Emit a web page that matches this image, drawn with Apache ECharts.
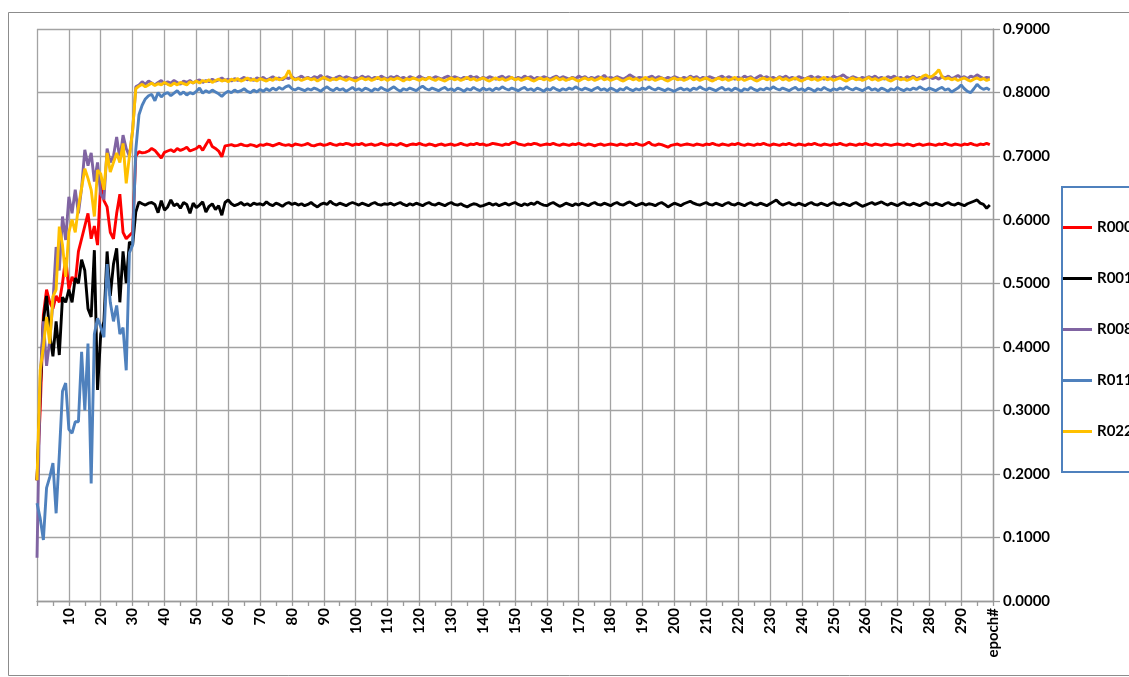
<!DOCTYPE html>
<html><head><meta charset="utf-8">
<script src="https://cdn.jsdelivr.net/npm/echarts@6/dist/echarts.min.js"></script>
<style>html,body{margin:0;padding:0;background:#fff}#c{width:1129px;height:677px}</style>
</head><body><div id="c"></div>
<script>
const seriesNames = ['R000','R001','R008','R011','R022'];
const seriesColors = ['#ff0000','#000000','#8064a2','#4f81bd','#ffc000'];
const yTicks = [0,0.1,0.2,0.3,0.4,0.5,0.6,0.7,0.8,0.9];

const R000 = [
0.190,0.300,0.450,0.490,0.470,0.460,0.480,0.470,0.500,0.540,
0.490,0.510,0.500,0.550,0.570,0.590,0.610,0.570,0.590,0.560,
0.660,0.630,0.620,0.580,0.570,0.610,0.640,0.580,0.570,0.575,
0.580,0.700,0.707,0.705,0.706,0.708,0.712,0.709,0.703,0.697,
0.706,0.708,0.710,0.707,0.712,0.709,0.711,0.714,0.708,0.710,
0.712,0.716,0.709,0.718,0.726,0.715,0.712,0.708,0.699,0.716,
0.717,0.718,0.716,0.717,0.719,0.717,0.716,0.718,0.717,0.715,
0.718,0.717,0.719,0.718,0.716,0.718,0.720,0.718,0.717,0.718,
0.716,0.719,0.718,0.717,0.718,0.720,0.717,0.716,0.718,0.719,
0.717,0.718,0.720,0.718,0.717,0.719,0.718,0.720,0.719,0.717,
0.719,0.718,0.720,0.717,0.718,0.719,0.717,0.718,0.720,0.718,
0.717,0.719,0.718,0.717,0.720,0.718,0.716,0.718,0.719,0.718,
0.720,0.718,0.717,0.719,0.718,0.716,0.718,0.719,0.717,0.718,
0.719,0.717,0.718,0.720,0.718,0.717,0.719,0.718,0.720,0.718,
0.719,0.717,0.718,0.720,0.719,0.718,0.717,0.719,0.718,0.721,
0.722,0.719,0.718,0.717,0.719,0.718,0.720,0.719,0.717,0.718,
0.719,0.718,0.720,0.718,0.717,0.719,0.718,0.717,0.719,0.718,
0.720,0.718,0.717,0.719,0.718,0.716,0.718,0.719,0.717,0.718,
0.719,0.718,0.717,0.719,0.718,0.717,0.719,0.718,0.720,0.718,
0.717,0.719,0.722,0.718,0.717,0.719,0.718,0.716,0.714,0.717,
0.718,0.719,0.717,0.718,0.719,0.718,0.717,0.719,0.718,0.717,
0.719,0.718,0.720,0.718,0.717,0.719,0.718,0.717,0.719,0.718,
0.720,0.718,0.717,0.719,0.718,0.717,0.719,0.718,0.720,0.718,
0.717,0.719,0.718,0.717,0.719,0.718,0.720,0.718,0.717,0.719,
0.718,0.717,0.719,0.718,0.720,0.718,0.717,0.719,0.718,0.717,
0.719,0.718,0.720,0.718,0.717,0.719,0.718,0.717,0.719,0.718,
0.720,0.718,0.717,0.719,0.718,0.717,0.719,0.718,0.717,0.718,
0.719,0.718,0.717,0.719,0.718,0.716,0.718,0.719,0.717,0.718,
0.719,0.718,0.717,0.719,0.718,0.720,0.718,0.717,0.719,0.718,
0.717,0.719,0.718,0.720,0.718,0.717,0.719,0.718,0.720,0.718
];
const R001 = [
0.190,0.330,0.440,0.480,0.420,0.385,0.440,0.387,0.478,0.470,
0.490,0.470,0.508,0.500,0.537,0.520,0.460,0.447,0.552,0.332,
0.420,0.440,0.550,0.480,0.530,0.555,0.470,0.550,0.500,0.565,
0.560,0.612,0.628,0.625,0.623,0.626,0.627,0.624,0.611,0.630,
0.615,0.620,0.631,0.622,0.625,0.618,0.627,0.624,0.610,0.626,
0.619,0.623,0.628,0.612,0.621,0.625,0.616,0.622,0.607,0.627,
0.631,0.625,0.622,0.624,0.627,0.623,0.625,0.622,0.626,0.624,
0.625,0.623,0.628,0.624,0.622,0.626,0.624,0.621,0.625,0.627,
0.624,0.626,0.623,0.625,0.622,0.624,0.627,0.623,0.620,0.624,
0.626,0.624,0.629,0.625,0.623,0.626,0.624,0.622,0.625,0.627,
0.625,0.623,0.626,0.624,0.622,0.625,0.627,0.624,0.623,0.625,
0.624,0.626,0.623,0.625,0.627,0.624,0.622,0.625,0.623,0.626,
0.624,0.622,0.625,0.627,0.624,0.623,0.626,0.624,0.622,0.625,
0.627,0.624,0.623,0.625,0.622,0.620,0.623,0.625,0.624,0.621,
0.622,0.624,0.626,0.623,0.625,0.622,0.624,0.626,0.623,0.625,
0.627,0.624,0.622,0.625,0.623,0.626,0.624,0.628,0.625,0.623,
0.622,0.625,0.627,0.624,0.621,0.623,0.626,0.624,0.622,0.625,
0.623,0.626,0.624,0.622,0.625,0.627,0.624,0.623,0.626,0.624,
0.622,0.625,0.627,0.624,0.623,0.626,0.628,0.625,0.622,0.624,
0.626,0.623,0.625,0.624,0.622,0.625,0.627,0.624,0.620,0.623,
0.626,0.624,0.622,0.625,0.627,0.629,0.626,0.624,0.623,0.625,
0.627,0.624,0.623,0.626,0.624,0.622,0.625,0.627,0.624,0.623,
0.626,0.624,0.622,0.625,0.627,0.624,0.623,0.626,0.624,0.622,
0.625,0.628,0.631,0.626,0.623,0.625,0.627,0.624,0.623,0.626,
0.624,0.622,0.625,0.627,0.624,0.623,0.626,0.624,0.622,0.625,
0.627,0.624,0.623,0.626,0.624,0.622,0.625,0.627,0.624,0.621,
0.623,0.625,0.627,0.624,0.626,0.628,0.625,0.623,0.626,0.624,
0.622,0.625,0.627,0.624,0.623,0.626,0.624,0.622,0.625,0.627,
0.624,0.623,0.626,0.624,0.622,0.625,0.627,0.624,0.623,0.626,
0.624,0.622,0.625,0.627,0.629,0.631,0.626,0.624,0.618,0.623
];
const R008 = [
0.068,0.350,0.440,0.370,0.410,0.470,0.557,0.520,0.605,0.568,
0.636,0.610,0.647,0.610,0.650,0.710,0.685,0.705,0.660,0.690,
0.640,0.632,0.712,0.690,0.700,0.730,0.695,0.733,0.712,0.700,
0.740,0.809,0.812,0.817,0.813,0.818,0.815,0.812,0.816,0.819,
0.814,0.817,0.815,0.819,0.816,0.813,0.818,0.816,0.819,0.815,
0.818,0.820,0.816,0.819,0.817,0.821,0.818,0.820,0.823,0.819,
0.821,0.818,0.822,0.819,0.821,0.824,0.820,0.822,0.819,0.823,
0.821,0.824,0.820,0.822,0.825,0.821,0.823,0.820,0.824,0.822,
0.825,0.821,0.823,0.826,0.822,0.824,0.821,0.825,0.823,0.827,
0.822,0.825,0.823,0.821,0.824,0.826,0.822,0.825,0.823,0.821,
0.824,0.822,0.826,0.823,0.825,0.821,0.824,0.822,0.826,0.823,
0.821,0.825,0.823,0.826,0.822,0.824,0.821,0.825,0.823,0.822,
0.826,0.823,0.821,0.824,0.822,0.825,0.823,0.821,0.824,0.826,
0.822,0.825,0.823,0.821,0.824,0.822,0.826,0.823,0.825,0.821,
0.824,0.822,0.825,0.823,0.821,0.824,0.826,0.822,0.825,0.823,
0.821,0.824,0.822,0.826,0.823,0.825,0.821,0.824,0.822,0.825,
0.823,0.821,0.824,0.826,0.822,0.825,0.823,0.821,0.824,0.822,
0.826,0.823,0.825,0.821,0.824,0.822,0.825,0.823,0.827,0.822,
0.824,0.822,0.825,0.823,0.821,0.824,0.828,0.825,0.822,0.824,
0.823,0.821,0.824,0.826,0.822,0.825,0.823,0.821,0.824,0.822,
0.825,0.823,0.821,0.824,0.822,0.826,0.823,0.825,0.821,0.824,
0.822,0.825,0.823,0.821,0.824,0.826,0.822,0.825,0.823,0.821,
0.824,0.822,0.826,0.823,0.825,0.821,0.824,0.827,0.823,0.825,
0.822,0.824,0.821,0.825,0.823,0.826,0.822,0.824,0.821,0.825,
0.823,0.821,0.824,0.826,0.822,0.825,0.823,0.821,0.824,0.822,
0.826,0.823,0.825,0.828,0.824,0.822,0.825,0.823,0.821,0.824,
0.822,0.825,0.823,0.826,0.822,0.824,0.821,0.825,0.823,0.826,
0.822,0.824,0.821,0.825,0.823,0.826,0.822,0.824,0.821,0.823,
0.825,0.822,0.824,0.821,0.825,0.823,0.826,0.822,0.824,0.827,
0.823,0.825,0.822,0.826,0.824,0.828,0.825,0.822,0.824,0.823
];
const R011 = [
0.154,0.130,0.096,0.178,0.195,0.217,0.138,0.230,0.330,0.343,
0.270,0.264,0.282,0.282,0.392,0.300,0.405,0.185,0.420,0.445,
0.431,0.415,0.530,0.470,0.440,0.465,0.420,0.430,0.363,0.548,
0.560,0.710,0.765,0.780,0.790,0.795,0.797,0.787,0.800,0.793,
0.798,0.800,0.795,0.799,0.803,0.797,0.801,0.796,0.800,0.798,
0.802,0.807,0.799,0.803,0.800,0.804,0.801,0.798,0.794,0.799,
0.802,0.800,0.804,0.801,0.803,0.806,0.802,0.800,0.804,0.801,
0.805,0.802,0.806,0.803,0.807,0.804,0.808,0.805,0.809,0.811,
0.806,0.804,0.807,0.805,0.803,0.806,0.804,0.807,0.805,0.802,
0.806,0.809,0.805,0.803,0.807,0.804,0.806,0.802,0.805,0.808,
0.804,0.806,0.803,0.807,0.805,0.802,0.806,0.804,0.808,0.805,
0.803,0.806,0.809,0.805,0.802,0.806,0.804,0.807,0.805,0.803,
0.807,0.810,0.806,0.804,0.807,0.805,0.803,0.806,0.808,0.804,
0.806,0.803,0.807,0.805,0.802,0.806,0.804,0.808,0.805,0.803,
0.807,0.804,0.806,0.803,0.807,0.805,0.809,0.806,0.804,0.807,
0.805,0.803,0.806,0.808,0.804,0.806,0.803,0.807,0.805,0.802,
0.806,0.804,0.808,0.805,0.803,0.806,0.804,0.807,0.805,0.809,
0.806,0.804,0.807,0.805,0.803,0.806,0.808,0.804,0.806,0.803,
0.807,0.805,0.802,0.806,0.804,0.808,0.805,0.803,0.806,0.804,
0.807,0.805,0.809,0.806,0.804,0.807,0.805,0.803,0.806,0.804,
0.802,0.805,0.807,0.804,0.806,0.803,0.807,0.805,0.809,0.806,
0.804,0.807,0.805,0.803,0.806,0.808,0.804,0.806,0.803,0.807,
0.805,0.802,0.806,0.804,0.808,0.805,0.803,0.806,0.804,0.807,
0.805,0.809,0.806,0.804,0.807,0.805,0.803,0.806,0.808,0.804,
0.806,0.803,0.807,0.805,0.802,0.806,0.804,0.808,0.805,0.803,
0.806,0.804,0.807,0.805,0.809,0.806,0.804,0.807,0.805,0.803,
0.806,0.808,0.804,0.806,0.803,0.807,0.805,0.802,0.806,0.804,
0.808,0.805,0.803,0.806,0.804,0.807,0.805,0.809,0.806,0.804,
0.807,0.805,0.803,0.806,0.808,0.804,0.806,0.801,0.804,0.807,
0.812,0.806,0.802,0.800,0.806,0.813,0.808,0.805,0.807,0.804
];
const R022 = [
0.190,0.363,0.400,0.447,0.405,0.479,0.490,0.589,0.560,0.510,
0.580,0.600,0.580,0.620,0.650,0.680,0.665,0.647,0.605,0.678,
0.672,0.647,0.705,0.675,0.690,0.705,0.690,0.720,0.657,0.700,
0.740,0.806,0.810,0.813,0.809,0.812,0.815,0.811,0.814,0.812,
0.816,0.813,0.811,0.815,0.812,0.816,0.814,0.812,0.817,0.815,
0.818,0.815,0.819,0.817,0.820,0.816,0.819,0.821,0.818,0.820,
0.817,0.821,0.819,0.822,0.818,0.820,0.823,0.819,0.821,0.818,
0.822,0.820,0.818,0.821,0.819,0.823,0.820,0.822,0.825,0.835,
0.823,0.820,0.822,0.819,0.821,0.823,0.820,0.822,0.818,0.821,
0.824,0.821,0.819,0.822,0.820,0.823,0.821,0.819,0.822,0.820,
0.818,0.821,0.823,0.820,0.822,0.819,0.821,0.824,0.820,0.822,
0.819,0.822,0.820,0.823,0.821,0.818,0.822,0.820,0.823,0.821,
0.819,0.822,0.820,0.824,0.821,0.819,0.822,0.820,0.818,0.821,
0.823,0.820,0.822,0.819,0.821,0.824,0.820,0.822,0.819,0.821,
0.823,0.820,0.818,0.821,0.823,0.820,0.822,0.819,0.821,0.824,
0.820,0.822,0.819,0.821,0.823,0.820,0.818,0.821,0.823,0.820,
0.822,0.819,0.821,0.824,0.820,0.822,0.819,0.821,0.823,0.820,
0.818,0.821,0.823,0.820,0.822,0.819,0.821,0.824,0.820,0.822,
0.819,0.821,0.823,0.820,0.818,0.821,0.823,0.820,0.822,0.819,
0.821,0.824,0.820,0.822,0.819,0.821,0.823,0.820,0.818,0.821,
0.823,0.820,0.822,0.819,0.821,0.824,0.820,0.822,0.819,0.821,
0.823,0.820,0.818,0.821,0.823,0.820,0.822,0.819,0.821,0.824,
0.820,0.822,0.819,0.821,0.823,0.820,0.818,0.821,0.823,0.820,
0.822,0.819,0.821,0.824,0.820,0.822,0.819,0.821,0.823,0.820,
0.818,0.821,0.823,0.820,0.822,0.819,0.821,0.824,0.820,0.822,
0.819,0.821,0.823,0.820,0.818,0.821,0.823,0.820,0.822,0.819,
0.821,0.824,0.820,0.822,0.819,0.821,0.823,0.820,0.818,0.821,
0.823,0.820,0.822,0.819,0.821,0.824,0.820,0.822,0.826,0.828,
0.824,0.826,0.830,0.836,0.825,0.821,0.823,0.820,0.822,0.819,
0.821,0.823,0.820,0.818,0.821,0.823,0.820,0.822,0.819,0.821
];
const seriesData = [R000, R001, R008, R011, R022];

// x categories: epochs 0..299 then the axis title category
const categories = [];
for (let i = 0; i < 300; i++) categories.push(String(i));
categories.push('epoch#');

const labelFont = { fontFamily: 'Lato', fontWeight: 'bold', fontSize: 15, color: '#000' };
const chart = echarts.init(document.getElementById('c'), null, { renderer: 'canvas' });
chart.setOption({
  animation: false,
  backgroundColor: '#fff',
  graphic: [{
    type: 'rect', silent: true, z: -10,
    shape: { x: 8.5, y: 12.5, width: 1200, height: 663 },
    style: { fill: 'none', stroke: '#8c8c8c', lineWidth: 1 }
  }],
  grid: { left: 37, right: 136, top: 29, bottom: 76, containLabel: false },
  legend: {
    data: seriesNames,
    orient: 'vertical',
    left: 1062, top: 187,
    padding: [33, 40, 33, 1],
    itemGap: 36,
    itemWidth: 29, itemHeight: 3,
    icon: 'rect',
    backgroundColor: '#fff',
    borderColor: '#4f81bd', borderWidth: 2,
    textStyle: Object.assign({ lineHeight: 14 }, labelFont)
  },
  xAxis: {
    type: 'category',
    data: categories,
    boundaryGap: false,
    axisLine: { show: true, lineStyle: { color: '#9a9a9a', width: 1.3 } },
    axisTick: { show: true, length: 5, interval: (i) => i % 5 === 0, lineStyle: { color: '#9a9a9a', width: 1.3 } },
    axisLabel: Object.assign({
      rotate: 90, margin: 7,
      interval: (i, v) => (i > 0 && i % 10 === 0),
      formatter: (v) => v
    }, labelFont),
    splitLine: { show: true, interval: (i) => i % 10 === 0, lineStyle: { color: '#a3a3a3', width: 1.3 } }
  },
  yAxis: {
    type: 'value',
    position: 'right',
    min: yTicks[0], max: yTicks[yTicks.length - 1], interval: 0.1,
    axisLine: { show: true, lineStyle: { color: '#9a9a9a', width: 1.3 } },
    axisTick: { show: true, length: 7, lineStyle: { color: '#9a9a9a', width: 1.3 } },
    axisLabel: Object.assign({ margin: 10, formatter: (v) => v.toFixed(4) }, labelFont),
    splitLine: { show: true, lineStyle: { color: '#a3a3a3', width: 1.3 } }
  },
  series: seriesNames.map((n, k) => ({
    name: n,
    type: 'line',
    data: seriesData[k],
    symbol: 'none',
    showSymbol: false,
    color: seriesColors[k],
    lineStyle: { color: seriesColors[k], width: 2.9 },
    itemStyle: { color: seriesColors[k] },
    emphasis: { disabled: true },
    z: 2 + k
  }))
});
</script>
</body></html>
